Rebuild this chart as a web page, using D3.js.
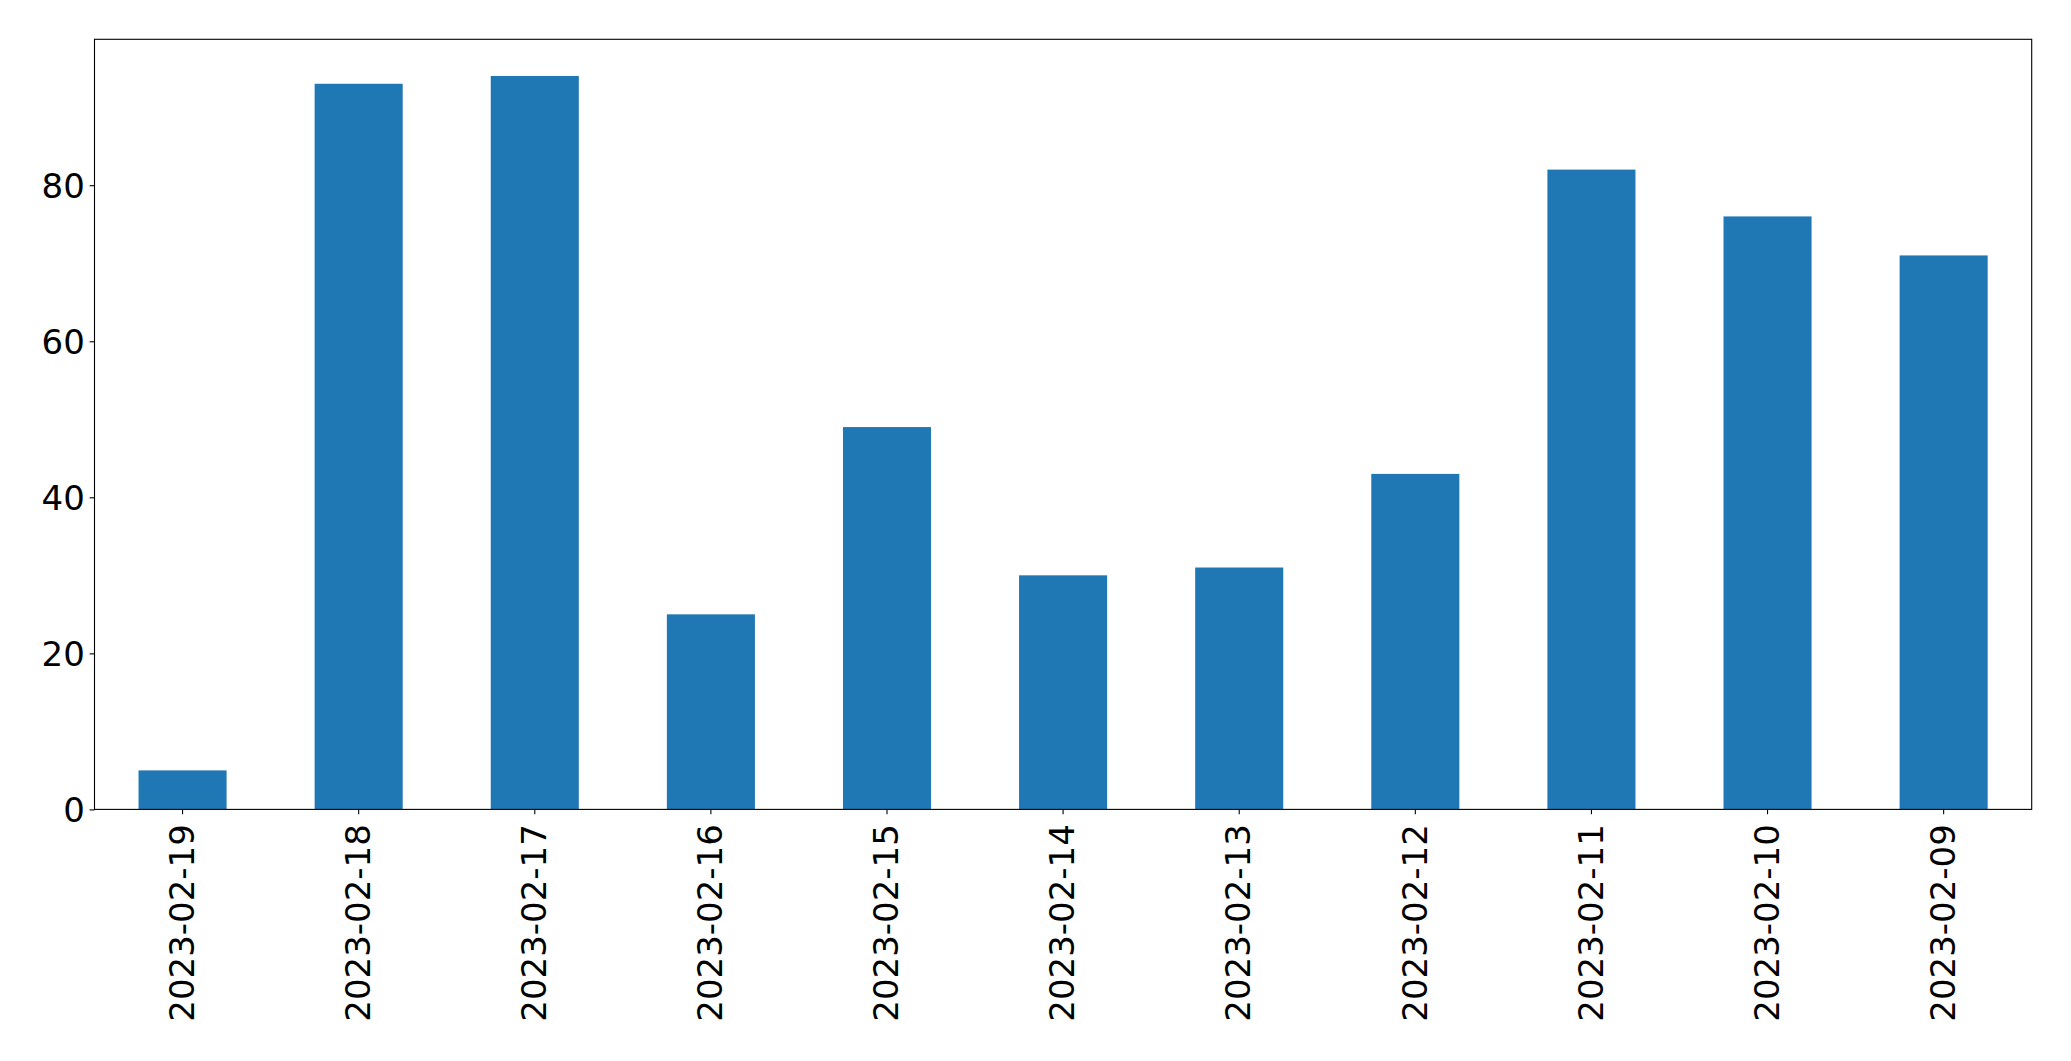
<!DOCTYPE html>
<html><head><meta charset="utf-8">
<script src="https://cdn.jsdelivr.net/npm/d3@7"></script>
<style>html,body{margin:0;padding:0;background:#fff;}svg{display:block;}</style>
</head><body>
<script>
const categories = ["2023-02-19","2023-02-18","2023-02-17","2023-02-16","2023-02-15","2023-02-14","2023-02-13","2023-02-12","2023-02-11","2023-02-10","2023-02-09"];
const values = [5, 93, 94, 25, 49, 30, 31, 43, 82, 76, 71];
const yTicks = [0, 20, 40, 60, 80];

const W = 2071, H = 1061;
const m = {left: 94.5, right: 2071 - 2031.7, top: 39.3, bottom: 1061 - 809.4};
const fs = 34;
const svg = d3.select("body").append("svg").attr("width", W).attr("height", H);
const x = d3.scaleBand().domain(categories).range([m.left, W - m.right]).paddingInner(0.5).paddingOuter(0.25);
const y = d3.scaleLinear().domain([0, d3.max(values) * 1.05]).range([H - m.bottom, m.top]);

svg.append("g").selectAll("rect").data(values).join("rect")
  .attr("x", (d, i) => x(categories[i]))
  .attr("width", x.bandwidth())
  .attr("y", d => y(d))
  .attr("height", d => y(0) - y(d))
  .attr("fill", "#1f77b4");

const tickLen = 4.86, pad = 4.86;
const yAxis = d3.axisLeft(y).tickValues(yTicks).tickSize(tickLen).tickPadding(pad).tickFormat(d3.format("d"));
const gy = svg.append("g").attr("transform", `translate(${m.left},0)`).call(yAxis);
gy.select(".domain").remove();
gy.selectAll("line").attr("stroke", "#000").attr("stroke-width", 1.1);
gy.selectAll("text").attr("font-family", "DejaVu Sans").attr("font-size", fs).attr("fill", "#000").attr("dy", "0.36em");

const xAxis = d3.axisBottom(x).tickSize(tickLen).tickPadding(0);
const gx = svg.append("g").attr("transform", `translate(0,${H - m.bottom})`).call(xAxis);
gx.select(".domain").remove();
gx.selectAll("line").attr("stroke", "#000").attr("stroke-width", 1.1);
gx.selectAll("text")
  .attr("font-family", "DejaVu Sans").attr("font-size", fs).attr("fill", "#000")
  .attr("text-anchor", "end")
  .attr("transform", `translate(0,${tickLen + pad + 5}) rotate(-90)`)
  .attr("x", 0).attr("y", 0).attr("dy", "0.33em");

svg.append("rect")
  .attr("x", m.left).attr("y", m.top)
  .attr("width", W - m.left - m.right).attr("height", H - m.top - m.bottom)
  .attr("fill", "none").attr("stroke", "#000").attr("stroke-width", 1.1);
</script>
</body></html>
